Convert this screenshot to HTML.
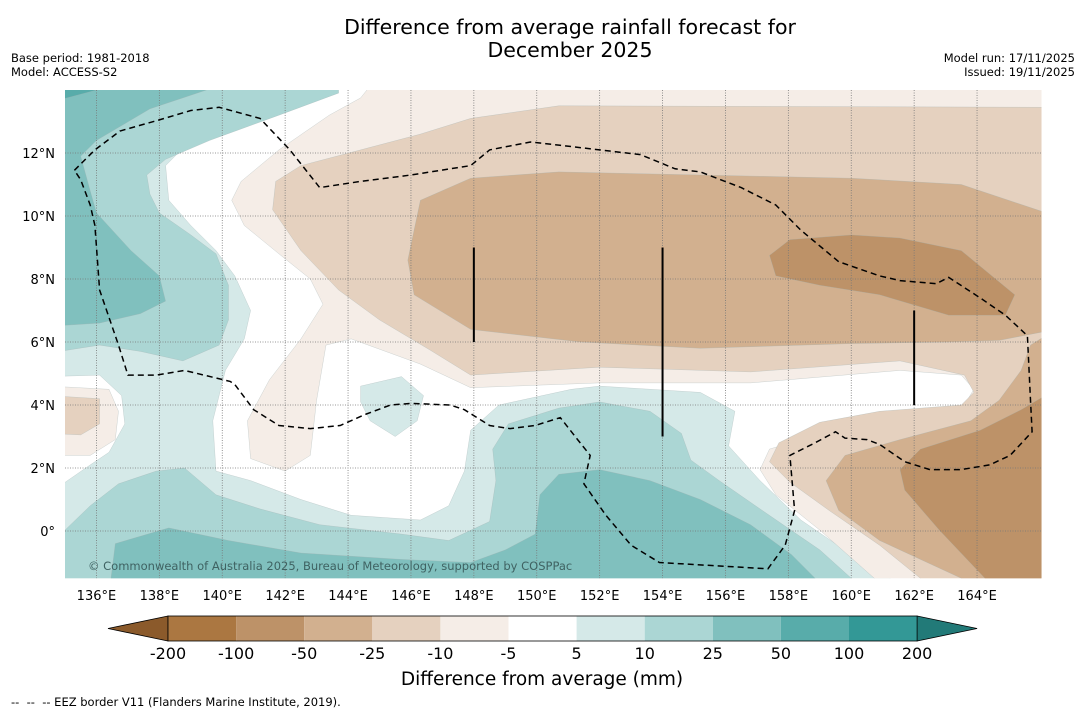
<!DOCTYPE html>
<html><head><meta charset="utf-8"><style>
body{margin:0;background:#fff;width:1085px;height:713px;overflow:hidden;font-family:"DejaVu Sans","Liberation Sans",sans-serif}
svg{position:absolute;left:0;top:0;font-family:"DejaVu Sans","Liberation Sans",sans-serif}
</style></head><body>
<svg id="c" width="1085" height="713" xmlns="http://www.w3.org/2000/svg"></svg>
<script>
const lonTicks=[136,138,140,142,144,146,148,150,152,154,156,158,160,162,164];
const latTicks=[0,2,4,6,8,10,12];
const levels=[-200,-100,-50,-25,-10,-5,5,10,25,50,100,200];
const levelColors=["#ab7741","#bd9268","#d2b08f","#e5d1bf","#f5ede7","#ffffff","#d5e9e8","#abd6d4","#80c0be","#58acaa","#339896"];
const t1Main=[[144.2,14.5],[141.8,13.7],[139.3,12.7],[138.2,11.6],[138.3,10.5],[139,9.7],[139.8,8.9],[140.4,8.1],[140.9,7.0],[140.7,6.1],[140.1,5.1],[139.7,3.5],[139.8,1.9],[140.9,1.6],[142.5,1.0],[144.1,0.5],[146.3,0.35],[147.2,0.8],[147.7,1.9],[147.9,3.2],[148.8,4.0],[151.1,4.5],[152.0,4.6],[155.2,4.4],[156.3,3.8],[156.1,2.7],[157.1,1.6],[158.4,0.35],[160,-0.75],[161.4,-1.6],[161.5,-2],[134.5,-2],[134.5,14.5]];
const t1Island=[[144.4,4.6],[145.7,4.9],[146.4,4.3],[146.2,3.5],[145.5,3.0],[144.7,3.5],[144.4,4.1]];
const whiteBump=[[134.5,4.9],[136.1,4.95],[136.8,4.3],[136.9,3.4],[136.4,2.5],[135.8,2.1],[134.5,1.2]];
const l1Bump=[[134.5,4.6],[136.4,4.5],[136.7,3.8],[136.6,2.9],[135.8,2.4],[134.5,2.4]];
const l2Bump=[[134.5,4.3],[136.1,4.2],[136.1,3.4],[135.5,3.05],[134.5,3.1]];
const t2Upper=[[134.5,14.5],[143.7,14.5],[143.7,13.9],[141.8,13.2],[139.6,12.4],[138.2,11.8],[137.6,11.3],[137.7,10.7],[138,10.1],[139,9.4],[139.8,8.8],[140.2,7.8],[140.2,6.7],[139.9,5.9],[138.75,5.4],[137.4,5.7],[136.1,5.9],[134.5,5.65]];
const t2Lower=[[134.5,-2],[134.5,-0.45],[135.8,0.8],[136.7,1.5],[137.9,1.9],[138.8,2.0],[139.8,1.15],[141.2,0.7],[143.1,0.2],[145.7,-0.1],[147.2,-0.3],[148.5,0.3],[148.7,1.6],[148.6,2.6],[149.1,3.4],[150.7,3.9],[152,4.1],[153.6,3.8],[154.6,3.1],[154.9,2.25],[155.8,1.6],[157.1,0.7],[159,-0.6],[160,-1.5],[160.1,-2]];
const t3Upper=[[134.5,14.5],[139.5,14.5],[139.5,14],[137.7,13.4],[136,12.4],[135.5,11.9],[135.8,10.8],[136,10.1],[137.1,8.9],[138,8.1],[138.2,7.3],[137.4,6.9],[136.1,6.6],[134.5,6.5]];
const t3Lower=[[136.4,-2],[136.6,-0.4],[138.3,0.1],[140.2,-0.3],[142.5,-0.7],[145.7,-0.9],[147.9,-1.0],[149,-0.6],[149.95,-0.1],[150.1,1.15],[150.7,1.8],[152,1.95],[153.6,1.6],[155.2,1.0],[156.8,0.2],[158.1,-0.75],[158.85,-1.5],[159,-2]];
const t4Corner=[[134.5,14.5],[136,14.5],[136,14],[134.5,13.6]];
const l1Main=[[145,14.5],[166.5,14.5],[166.5,-2],[161.3,-2],[159,0.03],[157.6,1.15],[157.1,1.95],[157.4,2.6],[158.4,2.9],[160.9,3.5],[163.5,3.85],[163.9,4.5],[163.5,4.95],[161.55,5.1],[156.8,4.7],[152,4.7],[147.9,4.55],[146.3,5.3],[144.1,6.1],[143.3,5.9],[143,4.15],[142.8,2.4],[142,1.9],[140.9,2.3],[140.8,3.5],[141.5,4.8],[142.5,6.1],[143.2,7.2],[142.8,8.0],[141.8,8.8],[140.7,9.7],[140.3,10.5],[140.6,11.1],[141.8,12.1],[143.4,13.2],[144.4,13.75]];
const l2Main=[[166.5,13.45],[150.7,13.5],[147.9,13.1],[146.3,12.6],[144.4,12.1],[142.5,11.6],[141.7,11.1],[141.6,10.2],[142.5,8.9],[143.7,7.65],[145,6.7],[146.6,5.75],[147.9,4.95],[152,5.2],[156.8,5.05],[161.55,5.4],[163.6,4.95],[163.9,4.4],[163.5,4.0],[160.9,3.8],[159,3.45],[157.7,2.8],[157.4,2.2],[158.05,1.55],[159.3,0.65],[160.9,-0.45],[162.2,-1.5],[162.3,-2],[166.5,-2]];
const l3Upper=[[166.5,10.0],[163.5,11.0],[160,11.2],[155.2,11.3],[150.7,11.4],[147.9,11.2],[146.3,10.5],[145.9,8.6],[146.1,7.5],[147.9,6.4],[151.4,6.0],[155.2,5.8],[160,5.95],[163.1,6.0],[164.7,6.05],[166.5,6.4]];
const l3Lower=[[166.5,6.4],[166.5,-2],[163.5,-2],[163.5,-1.5],[160.9,-0.3],[159.6,0.65],[159.2,1.6],[159.8,2.4],[161.55,2.9],[163.8,3.5],[164.7,4.15],[165.4,5.1],[165.7,5.9]];
const l4Upper=[[157.4,8.75],[158.05,9.25],[160,9.4],[161.55,9.3],[163.5,8.9],[165.2,7.5],[164.9,6.85],[163.1,6.85],[160.9,7.5],[159,7.8],[157.6,8.1]];
const l4Lower=[[166.5,4.5],[166.5,-2],[164.25,-2],[164.25,-1.5],[162.8,0.03],[161.7,1.3],[161.55,1.95],[162.2,2.6],[164.1,3.2],[165.4,3.85]];
const eez=[[135.3,11.45],[135.95,12.1],[136.75,12.7],[138,13.05],[139,13.35],[139.9,13.45],[141.2,13.1],[142.15,12.1],[143.1,10.9],[144.4,11.1],[146,11.3],[147.9,11.6],[148.5,12.1],[149.8,12.35],[150.7,12.25],[152,12.1],[153.3,11.95],[154.4,11.5],[155.2,11.4],[156.5,10.9],[157.6,10.35],[158.4,9.55],[159.6,8.55],[160.9,8.1],[161.55,7.95],[162.7,7.85],[163.1,8.05],[164.1,7.4],[164.9,6.85],[165.6,6.2],[165.7,4.15],[165.75,3.15],[165.05,2.4],[164.4,2.1],[163.5,1.95],[162.5,1.95],[161.7,2.2],[160.9,2.75],[160.5,2.9],[159.8,2.95],[159.5,3.15],[158.85,2.8],[158.05,2.4],[158.2,0.65],[157.9,-0.45],[157.35,-1.2],[153.9,-1.0],[153,-0.45],[152.2,0.5],[151.5,1.5],[151.7,2.4],[151.3,2.9],[150.75,3.6],[149.95,3.35],[149.15,3.25],[148.5,3.35],[147.7,3.85],[147.25,4.0],[146,4.05],[145.35,4.0],[144.55,3.7],[143.75,3.35],[142.8,3.25],[141.8,3.35],[141,3.85],[140.4,4.65],[140.25,4.75],[138.8,5.1],[137.9,4.95],[137,4.95],[136.7,5.9],[136.1,7.65],[135.95,9.7],[135.8,10.35],[135.5,11.15],[135.3,11.45]];
const bars=[[148,6,9],[154,3,9],[162,4,7]];

const X=lon=>65+(lon-135)*31.45, Y=lat=>531-lat*31.5;
const NS="http://www.w3.org/2000/svg", svg=document.getElementById('c');
function mk(tag,attrs,parent){const e=document.createElementNS(NS,tag);for(const k in attrs)e.setAttribute(k,attrs[k]);(parent||svg).appendChild(e);return e;}
function txt(s,x,y,size,anchor,parent){const t=mk('text',{x:x,y:y,'font-size':size,'text-anchor':anchor||'start',fill:'#000'},parent);t.textContent=s;return t;}
const pts=a=>a.map(p=>X(p[0]).toFixed(1)+','+Y(p[1]).toFixed(1)).join(' ');

let t;
t=txt('Difference from average rainfall forecast for',570,34,20.5,'middle');


t=txt('December 2025',570,57,20.5,'middle');


t=txt('Base period: 1981-2018',11,62,11.5);


t=txt('Model: ACCESS-S2',11,76,11.5);


t=txt('Model run: 17/11/2025',1075,62,11.5,'end');


t=txt('Issued: 19/11/2025',1075,76,11.5,'end');



const defs=mk('defs',{});
const cp=mk('clipPath',{id:'mapclip'},defs);
mk('rect',{x:X(135),y:Y(14),width:X(166.05)-X(135),height:Y(-1.5)-Y(14)},cp);
const g=mk('g',{'clip-path':'url(#mapclip)'});


const layers=[
 ['t1-main',levelColors[6],t1Main],['t2-upper',levelColors[7],t2Upper],['t3-upper',levelColors[8],t3Upper],['t4-corner',levelColors[9],t4Corner],
 ['t2-lower',levelColors[7],t2Lower],['t3-lower',levelColors[8],t3Lower],
 ['white-bump','#ffffff',whiteBump],['l1-bump',levelColors[4],l1Bump],['l2-bump',levelColors[3],l2Bump],
 ['l1-main',levelColors[4],l1Main],['l2-main',levelColors[3],l2Main],['l3-upper',levelColors[2],l3Upper],['l3-lower',levelColors[2],l3Lower],
 ['l4-upper',levelColors[1],l4Upper],['l4-lower',levelColors[1],l4Lower],['t1-island',levelColors[6],t1Island]
];
layers.forEach(L=>{
 const p=mk('polygon',{points:pts(L[2]),fill:L[1],stroke:'#9fb0b0','stroke-width':0.5,'stroke-opacity':0.5},g);
 
 
});
lonTicks.forEach(v=>{const l=mk('line',{x1:X(v),x2:X(v),y1:Y(14),y2:Y(-1.5),stroke:'#777','stroke-width':0.8,'stroke-dasharray':'1,1.5'},g);
 
 });
latTicks.forEach(v=>{const l=mk('line',{x1:X(135),x2:X(166.1),y1:Y(v),y2:Y(v),stroke:'#777','stroke-width':0.8,'stroke-dasharray':'1,1.5'},g);
 
 });
const ez=mk('polyline',{points:pts(eez),fill:'none',stroke:'#000','stroke-width':1.5,'stroke-dasharray':'6,4'},g);


bars.forEach(b=>{const l=mk('line',{x1:X(b[0]),x2:X(b[0]),y1:Y(b[2]),y2:Y(b[1]),stroke:'#000','stroke-width':2},g);
 
 });
t=txt('© Commonwealth of Australia 2025, Bureau of Meteorology, supported by COSPPac',88,570,11.5,'start',g);
t.setAttribute('fill','#3f6262');



lonTicks.forEach(v=>{const s=txt(v+'°E',X(v),600,13,'middle');
 
 });
latTicks.forEach(v=>{const s=txt(v===0?'0°':v+'°N',55,Y(v)+5,13,'end');
 
 });

const cbX0=168, cbW=68.1, cbY=616, cbH=25;
const CB=i=>cbX0+i*cbW;
const lt=mk('polygon',{points:`${CB(0)},${cbY} ${CB(0)-60},${cbY+cbH/2} ${CB(0)},${cbY+cbH}`,fill:'#8b5a2b',stroke:'#000','stroke-width':0.8});


const rt=mk('polygon',{points:`${CB(11)},${cbY} ${CB(11)+60},${cbY+cbH/2} ${CB(11)},${cbY+cbH}`,fill:'#227a78',stroke:'#000','stroke-width':0.8});


levelColors.forEach((c,i)=>{const r=mk('rect',{x:CB(i),y:cbY,width:cbW,height:cbH,fill:c});
 
 });
const ol=mk('rect',{x:CB(0),y:cbY,width:CB(11)-CB(0),height:cbH,fill:'none',stroke:'#000','stroke-width':0.8});


levels.forEach((v,i)=>{const s=txt(String(v),CB(i),659,16,'middle');
 
 });
t=txt('Difference from average (mm)',542,685,18.5,'middle');


t=txt('--  --  -- EEZ border V11 (Flanders Marine Institute, 2019).',11,706,11.5);
t.setAttribute('xml:space','preserve');
t.setAttribute('style','white-space:pre');


</script>
</body></html>
